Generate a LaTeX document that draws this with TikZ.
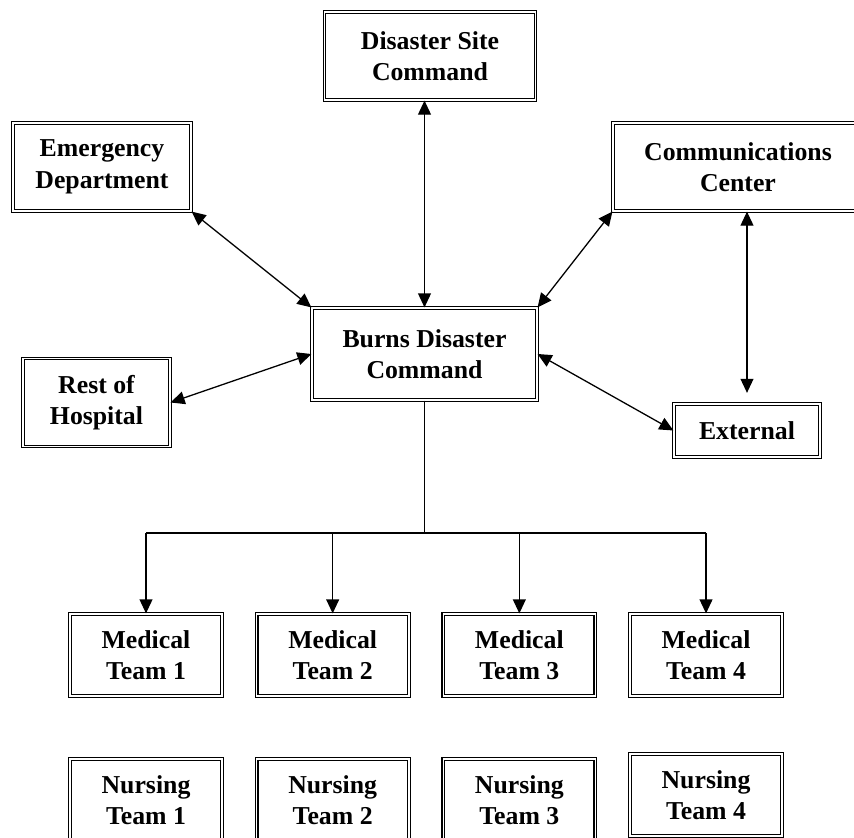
\documentclass[tikz,border=0pt]{standalone}
\usepackage{fontspec}
\setmainfont{Liberation Serif}
\usepackage{tikz}
\usetikzlibrary{arrows.meta,positioning}

\begin{document}
\begin{tikzpicture}[x=0.03cm, y=-0.03cm, node distance=5.6cm]
  \tikzstyle{box} = [rectangle, draw, double, line width=1pt,
  double distance=1.4pt, align=center, line join=miter,
  font=\bfseries\fontsize{22}{27}\selectfont]
  \tikzstyle{team} = [box, minimum width=4.56cm, minimum height=2.46cm]
  \tikzstyle{arr} = [line width=1.1pt, {Triangle[length=12pt,width=11pt]}-{Triangle[length=12pt,width=11pt]}]
  \tikzstyle{down} = [line width=1.1pt, -{Triangle[length=12pt,width=11pt]}]

  \useasboundingbox (0,0) rectangle (854,838);

  % Define nodes
  \node[box, minimum width=6.33cm, minimum height=2.64cm] (dsc) at (430,56) {Disaster Site\\Command};
  \node[box, minimum width=5.34cm, minimum height=2.64cm] (ed) at (102,167) {Emergency\\Department};
  \node[box, minimum width=7.5cm, minimum height=2.64cm] (cc) at (738,167) {Communications\\Center};
  \node[box, minimum width=6.75cm, minimum height=2.76cm] (bdc) at (424.5,354) {Burns Disaster\\Command};
  \node[box, minimum width=4.41cm, minimum height=2.64cm] (rest) at (96.5,402.5) {Rest of\\Hospital};
  \node[box, minimum width=4.38cm, minimum height=1.59cm] (ext) at (747,430.5) {External};

  \node[team] (med1) at (146,655) {Medical\\Team 1};
  \node[team, right of=med1] (med2) {Medical\\Team 2};
  \node[team, right of=med2] (med3) {Medical\\Team 3};
  \node[team, right of=med3] (med4) {Medical\\Team 4};

  \node[team, below of=med1, node distance=4.35cm] (nur1) {Nursing\\Team 1};
  \node[team, below of=med2, node distance=4.35cm] (nur2) {Nursing\\Team 2};
  \node[team, below of=med3, node distance=4.35cm] (nur3) {Nursing\\Team 3};
  \node[team, below of=med4, node distance=4.2cm] (nur4) {Nursing\\Team 4};

  % Two-way links
  \path [arr] (bdc.north) edge (bdc.north |- dsc.south);
  \path [arr] (ed.south east) edge (bdc.north west);
  \path [arr] (cc.south west) edge (bdc.north east);
  \path [arr] (rest.east) edge (bdc.west);
  \path [arr] (bdc.east) edge (ext.west);
  \path [arr] (ext.north |- cc.south) edge ([yshift=9pt]ext.north);

  % Teams
  \coordinate (bus) at (424.5,533);
  \draw[line width=1.1pt] (bdc.south) -- (bus);
  \draw[line width=1.1pt] (med1.north |- bus) -- (med4.north |- bus);
  \foreach \i in {1,...,4}
    \draw[down] (med\i.north |- bus) -- (med\i.north);
\end{tikzpicture}
\end{document}
